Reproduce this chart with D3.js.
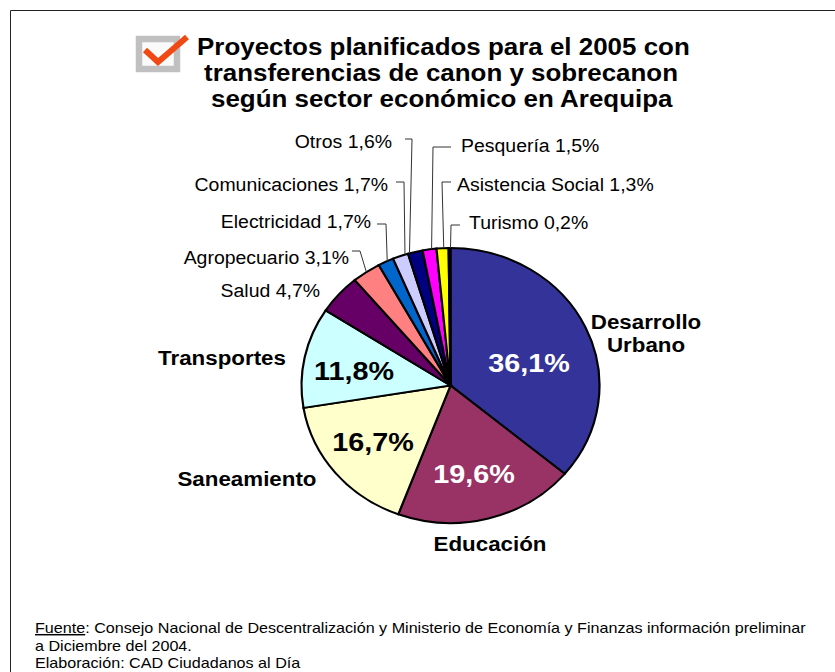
<!DOCTYPE html>
<html><head><meta charset="utf-8">
<script src="https://cdn.jsdelivr.net/npm/d3@7/dist/d3.min.js"></script>
<style>html,body{margin:0;padding:0;background:#fff}svg{display:block}text{font-family:"Liberation Sans",Arial,sans-serif;fill:#000}</style>
</head><body><svg id="c" width="835" height="672"></svg>
<script>
const categories=["Desarrollo Urbano","Educación","Saneamiento","Transportes","Salud","Agropecuario","Electricidad","Comunicaciones","Otros","Pesquería","Asistencia Social","Turismo"];
const values=[36.1,19.6,16.7,11.8,4.7,3.1,1.7,1.7,1.6,1.5,1.3,0.2];
const colors=["#333399","#993366","#FFFFCC","#CCFFFF","#660066","#FF8080","#0066CC","#CCCCFF","#000080","#FF00FF","#FFFF00","#000000"];
const titleLines=["Proyectos planificados para el 2005 con","transferencias de canon y sobrecanon","según sector económico en Arequipa"];

// layout
const W=835,H=672,cx=450.5,cy=385.5,rx=149,ry=137.5,K=1.09;
const svg=d3.select("#c");
const fmt=v=>d3.format(".1f")(v).replace(".",",")+"%";
const stretch=(x,y)=>`translate(${x},${y}) scale(${K},1)`;
svg.append("path").attr("d",`M10.5,${H}V10.5H${W}`).attr("fill","none").attr("stroke","#222");

// icon
const defs=svg.append("defs");
defs.append("filter").attr("id","soft").append("feGaussianBlur").attr("stdDeviation",0.6);
const ic=svg.append("g").attr("filter","url(#soft)");
ic.append("rect").attr("x",139).attr("y",39).attr("width",38).attr("height",30).attr("fill","#fafafa").attr("stroke","#c0c0c0").attr("stroke-width",6.5);
ic.append("path").attr("d","M145,50 L158,62 L187,37").attr("fill","none").attr("stroke","#f04a12").attr("stroke-width",6);

// title
const titleX=[197,204,211],titleY=[55,81,107],titleFS=23.8;
titleLines.forEach((t,i)=>svg.append("text").attr("transform",stretch(titleX[i],titleY[i])).attr("font-size",titleFS).attr("font-weight","bold").text(t));

// pie
const pie=d3.pie().sort(null).value(d=>d)(values);
const path=d3.arc().innerRadius(0).outerRadius(ry);
const g=svg.append("g").attr("transform",`translate(${cx},${cy})`);
g.selectAll("path").data(pie).join("path")
 .attr("transform",`scale(${rx/ry},1)`)
 .attr("d",path).attr("fill",(d,i)=>colors[i])
 .attr("stroke","#000").attr("stroke-width",2);

// leaders + small labels
const small=[
 {i:4,x:320,y:297,a:"end"},
 {i:5,x:349,y:264,a:"end",ex:352,ey:251,bx:360,f:.5},
 {i:6,x:371,y:228,a:"end",ex:377,ey:224,bx:386,f:.6},
 {i:7,x:388,y:191,a:"end",ex:396,ey:182,bx:404,f:.8},
 {i:8,x:392,y:148,a:"end",ex:405,ey:139,bx:412,f:.1},
 {i:9,x:461,y:152,a:"start",ex:451,ey:147,bx:433,f:.65},
 {i:10,x:457,y:191,a:"start",ex:451,ey:182,bx:442,f:.6},
 {i:11,x:469,y:229,a:"start",ex:460,ey:225,bx:451,f:1}
];
small.forEach(s=>{
 const d=pie[s.i];
 if(s.ex!==undefined){
  const ang=d.startAngle+(d.endAngle-d.startAngle)*s.f;
  const px=cx+rx*Math.sin(ang),py=cy-ry*Math.cos(ang);
  svg.append("path").attr("d",`M${s.ex},${s.ey}H${s.bx}L${px},${py}`).attr("fill","none").attr("stroke","#333").attr("stroke-width",1);
 }
 svg.append("text").attr("transform",stretch(s.x,s.y)).attr("text-anchor",s.a).attr("font-size",17.85).text(`${categories[s.i]} ${fmt(values[s.i])}`);
});

// big labels
const big=[
 {i:0,lines:["Desarrollo","Urbano"],x:646,y:329,px:529,py:372,c:"#fff"},
 {i:1,lines:["Educación"],x:490,y:551,px:474,py:483,c:"#fff"},
 {i:2,lines:["Saneamiento"],x:247,y:486,px:373,py:451,c:"#000"},
 {i:3,lines:["Transportes"],x:222,y:365,px:354,py:380,c:"#000"}
];
big.forEach(b=>{
 b.lines.forEach((l,k)=>svg.append("text").attr("transform",stretch(b.x,b.y+k*23)).attr("text-anchor","middle").attr("font-size",20.5).attr("font-weight","bold").text(l));
 svg.append("text").attr("transform",stretch(b.px,b.py)).attr("text-anchor","middle").attr("font-size",26.4).attr("font-weight","bold").style("fill",b.c).text(fmt(values[b.i]));
});

// footer
const footFS=14.8;
const f=svg.append("text").attr("transform",stretch(35,633)).attr("font-size",footFS);
f.append("tspan").attr("text-decoration","underline").text("Fuente");
f.append("tspan").text(": Consejo Nacional de Descentralización y Ministerio de Economía y Finanzas información preliminar");
svg.append("text").attr("transform",stretch(35,651)).attr("font-size",footFS).text("a Diciembre del 2004.");
svg.append("text").attr("transform",stretch(35,668)).attr("font-size",footFS).text("Elaboración: CAD Ciudadanos al Día");
</script></body></html>
